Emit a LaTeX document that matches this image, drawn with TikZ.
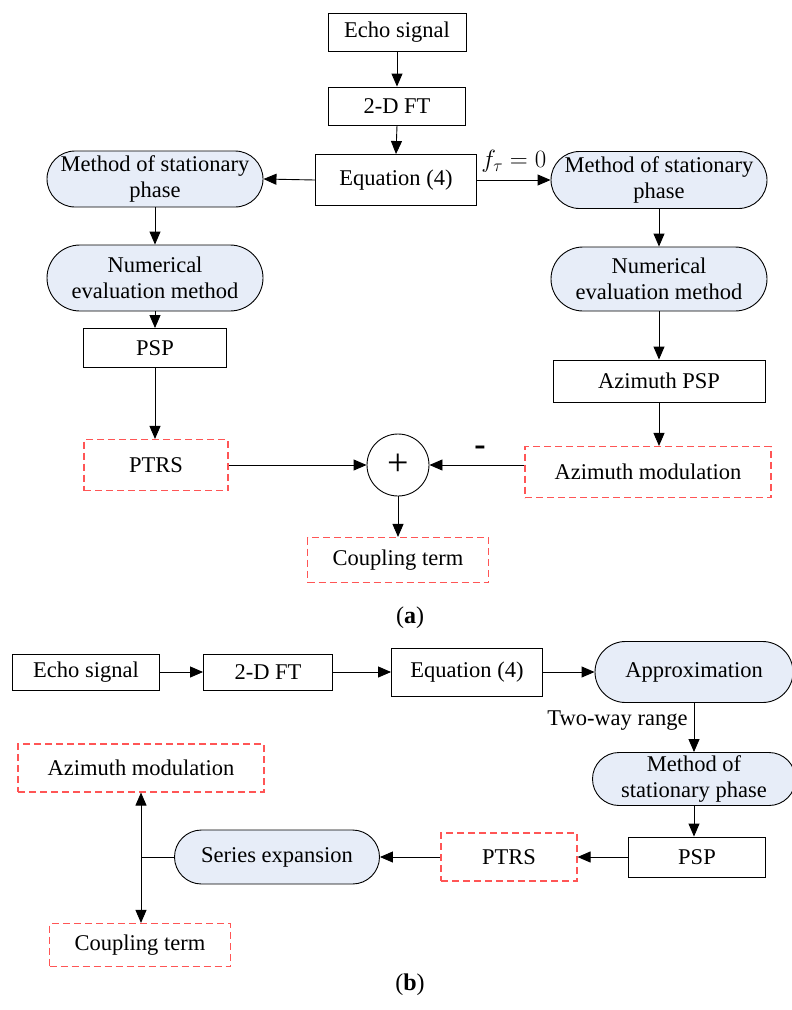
\documentclass[tikz,border=0pt]{standalone}
\usepackage{fontspec}
\setmainfont{Liberation Serif}
\usetikzlibrary{arrows.meta,shapes.misc}
\definecolor{pillfill}{RGB}{231,237,248}
\definecolor{dashred}{RGB}{255,85,85}
\tikzset{
  base/.style={font=\fontsize{22.5}{26}\selectfont, align=center, inner sep=0pt, line width=0.9pt},
  box/.style={base, draw, rectangle},
  pill/.style={base, draw, rounded rectangle, fill=pillfill},
  dbox/.style={base, draw=dashred, rectangle, line width=1.1pt, dash pattern=on 7pt off 4pt},
  arr/.style={-{Triangle[length=13pt,width=11pt]}, line width=0.9pt},
  ln/.style={line width=0.9pt}
}
\begin{document}
\begin{tikzpicture}[x=1pt,y=-1pt]
\useasboundingbox (0,0) rectangle (792,1010);
% ---------- (a) ----------
\node[box, minimum width=138pt, minimum height=38pt] (echo) at (397,32) {Echo signal};
\node[box, minimum width=137pt, minimum height=38pt] (ft) at (397,106) {2-D FT};
\node[box, minimum width=161pt, minimum height=51pt] (eq) at (396,180) {Equation (4)};
\node[pill, minimum width=216pt, minimum height=56pt] (lmsp) at (155,179) {Method of stationary\\phase};
\node[pill, minimum width=216pt, minimum height=57pt] (rmsp) at (659,180) {Method of stationary\\phase};
\node[pill, minimum width=216pt, minimum height=66pt] (lnum) at (155,278) {Numerical\\evaluation method};
\node[pill, minimum width=216pt, minimum height=64pt] (rnum) at (659,279) {Numerical\\evaluation method};
\node[box, minimum width=143pt, minimum height=39pt] (lpsp) at (155,348) {PSP};
\node[box, minimum width=212pt, minimum height=42pt] (apsp) at (659,381) {Azimuth PSP};
\node[dbox, minimum width=144pt, minimum height=51pt] (ptrs) at (156,465) {PTRS};
\node[base, draw, circle, minimum size=62pt] (plus) at (398,465) {\fontsize{38}{38}\selectfont +};
\node[dbox, minimum width=246pt, minimum height=51pt] (amod) at (648,472) {Azimuth modulation};
\node[dbox, minimum width=181pt, minimum height=45pt] (coup) at (398,560) {Coupling term};
\node[base, font=\fontsize{34}{34}\selectfont\bfseries] (minus) at (480,451) {-};
\node[base, font=\fontsize{24}{26}\selectfont] (capa) at (410,618) {(\textbf{a})};

\draw[arr] (echo.south) -- (ft.north);
\draw[arr] (ft.south) -- (eq.north);
\draw[arr] (eq.west) -- (lmsp.east);
\draw[arr] (eq.east) -- node[base, above=7pt, font=\fontsize{25}{26}\selectfont] (ftau) {$f_\tau = 0$} (rmsp.west);
\draw[arr] (lmsp.south) -- (lnum.north);
\draw[arr] (rmsp.south) -- (rnum.north);
\draw[arr] (lnum.south) -- (lpsp.north);
\draw[arr] (rnum.south) -- (apsp.north);
\draw[arr] (lpsp.south) -- (lpsp.south |- ptrs.north);
\draw[arr] (apsp.south) -- (apsp.south |- amod.north);
\draw[arr] (ptrs.east) -- (plus.west);
\draw[arr] (amod.west |- plus.east) -- (plus.east);
\draw[arr] (plus.south) -- (coup.north);

% ---------- (b) ----------
\node[box, minimum width=147pt, minimum height=36pt] (echo2) at (86,672) {Echo signal};
\node[box, minimum width=129pt, minimum height=36pt] (ft2) at (268,672) {2-D FT};
\node[box, minimum width=151pt, minimum height=48pt] (eq2) at (467,672) {Equation (4)};
\node[pill, minimum width=198pt, minimum height=61pt] (appr) at (694,672) {Approximation};
\node[pill, minimum width=203pt, minimum height=53pt] (msp2) at (694,779) {Method of\\stationary phase};
\node[box, minimum width=137pt, minimum height=40pt] (psp2) at (697,857) {PSP};
\node[dbox, minimum width=136pt, minimum height=48pt] (ptrs2) at (509,857) {PTRS};
\node[pill, minimum width=205pt, minimum height=54pt] (ser) at (277,857) {Series expansion};
\node[dbox, minimum width=246pt, minimum height=48pt] (amod2) at (141,768) {Azimuth modulation};
\node[dbox, minimum width=181pt, minimum height=43pt] (coup2) at (140,945) {Coupling term};
\node[base, anchor=east] (twr) at (688,721) {Two-way range};
\coordinate (j) at (141,857);
\node[base, font=\fontsize{24}{26}\selectfont] (capb) at (410,985) {(\textbf{b})};

\draw[arr] (echo2.east) -- (ft2.west);
\draw[arr] (ft2.east) -- (eq2.west);
\draw[arr] (eq2.east) -- (appr.west);
\draw[arr] (appr.south) -- (msp2.north);
\draw[arr] (msp2.south) -- (msp2.south |- psp2.north);
\draw[arr] (psp2.west) -- (ptrs2.east);
\draw[arr] (ptrs2.west) -- (ser.east);
\draw[ln] (ser.west) -- (j);
\draw[arr] (j) -- (j |- amod2.south);
\draw[arr] (j) -- (j |- coup2.north);
\end{tikzpicture}
\end{document}
